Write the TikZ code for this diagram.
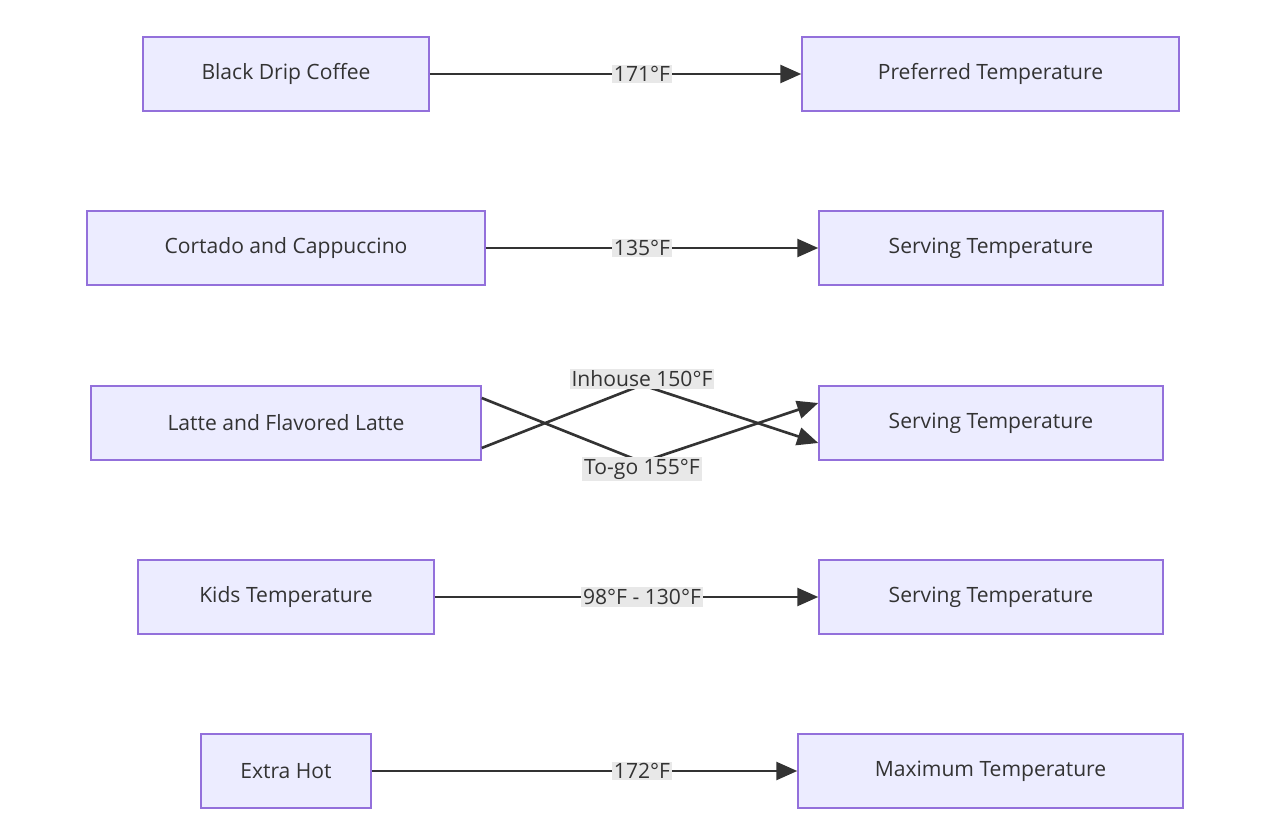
\documentclass[tikz,border=0pt]{standalone}
\usepackage{fontspec}
\setmainfont{Open Sans}
\usetikzlibrary{arrows.meta}
\definecolor{boxfill}{HTML}{ECECFF}
\definecolor{boxline}{HTML}{9370DB}
\definecolor{edgecol}{HTML}{333333}
\definecolor{labfill}{HTML}{E8E8E8}
\tikzset{
  box/.style={draw=boxline,fill=boxfill,line width=0.9pt,minimum height=1.48cm,
    inner xsep=0pt,font=\fontsize{12}{14}\selectfont,text=edgecol},
  lab/.style={fill=labfill,inner sep=1pt,font=\fontsize{12}{14}\selectfont,text=edgecol},
  arr/.style={draw=edgecol,line width=1.5pt,-{Triangle[length=0.42cm,width=0.36cm]}}
}
\begin{document}
\begin{tikzpicture}[x=0.02cm,y=-0.02cm]
  \useasboundingbox (0,0) rectangle (1275,824);
  % Knoten links
  \node[box,minimum width=5.72cm] (black) at (286,74) {Black Drip Coffee};
  \node[box,minimum width=7.96cm] (cortado) at (286,248) {Cortado and Cappuccino};
  \node[box,minimum width=7.80cm] (latte) at (286,423) {Latte and Flavored Latte};
  \node[box,minimum width=5.92cm] (kids) at (286,597) {Kids Temperature};
  \node[box,minimum width=3.40cm] (extra) at (286,771) {Extra Hot};
  % Knoten rechts
  \node[box,minimum width=7.54cm] (preferred) at (990.5,74) {Preferred Temperature};
  \node[box,minimum width=6.88cm] (serve1) at (991,248) {Serving Temperature};
  \node[box,minimum width=6.88cm] (serve2) at (991,423) {Serving Temperature};
  \node[box,minimum width=6.88cm] (serve3) at (991,597) {Serving Temperature};
  \node[box,minimum width=7.70cm] (maximum) at (990.5,771) {Maximum Temperature};
  % Kanten
  \draw[arr] (black) -- (preferred);
  \draw[arr] (cortado) -- (serve1);
  \draw[arr] (kids) -- (serve3);
  \draw[arr] (extra) -- (maximum);
  \coordinate (inA) at (642,385);
  \coordinate (outA) at (642,462);
  \draw[arr] ([yshift=-0.5cm]latte.east) -- (inA) -- ([yshift=-0.4cm]serve2.west);
  \draw[arr] ([yshift=0.5cm]latte.east) -- (outA) -- ([yshift=0.4cm]serve2.west);
  % Beschriftungen
  \node[lab] (l1) at (642,74) {171°F};
  \node[lab] (l2) at (642,248) {135°F};
  \node[lab] (l3) at (642,379) {Inhouse 150°F};
  \node[lab] (l4) at (642,469) {To-go 155°F};
  \node[lab] (l5) at (642,597) {98°F - 130°F};
  \node[lab] (l6) at (642,771) {172°F};
\end{tikzpicture}
\end{document}
